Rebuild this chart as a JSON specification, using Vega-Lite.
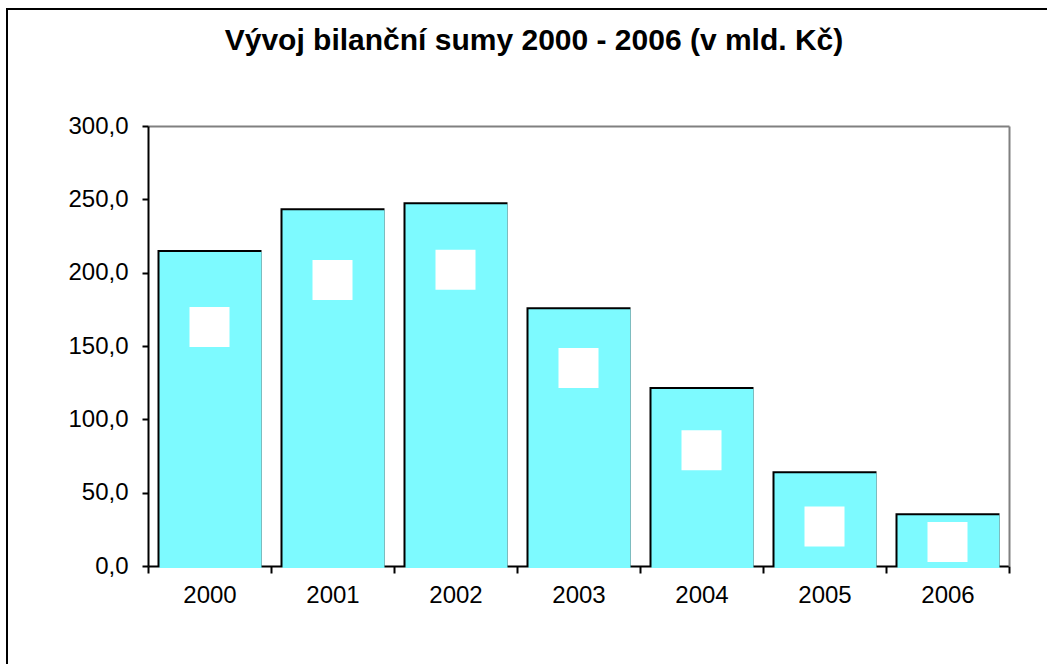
{
  "$schema": "https://vega.github.io/schema/vega-lite/v6.json",
  "width": 1040,
  "height": 655,
  "autosize": {"type": "none"},
  "padding": {"left": 7, "top": 9, "right": 0, "bottom": 0},
  "background": "white",
  "title": {
    "text": "Vývoj bilanční sumy 2000 - 2006 (v mld. Kč)",
    "font": "Liberation Sans",
    "fontSize": 30,
    "fontWeight": "bold",
    "color": "black",
    "anchor": "middle",
    "baseline": "middle",
    "offset": -62,
    "dx": 7
  },
  "data": {
    "values": [
      {"year": "2000", "value": 215.5, "labelPos": 163},
      {"year": "2001", "value": 244.0, "labelPos": 195},
      {"year": "2002", "value": 248.0, "labelPos": 202},
      {"year": "2003", "value": 176.5, "labelPos": 135},
      {"year": "2004", "value": 122.0, "labelPos": 79},
      {"year": "2005", "value": 64.6, "labelPos": 27},
      {"year": "2006", "value": 36.0, "labelPos": 16.4}
    ]
  },
  "layer": [
    {
      "mark": {"type": "bar", "color": "black", "width": 104},
      "encoding": {
        "x": {
          "field": "year",
          "type": "nominal",
          "sort": null,
          "scale": {"range": [141, 1002], "paddingInner": 0, "paddingOuter": 0},
          "axis": {
            "title": null,
            "orient": "bottom",
            "offset": -98,
            "domainColor": "black",
            "domainWidth": 2,
            "tickColor": "black",
            "tickWidth": 2,
            "tickSize": 7,
            "tickBand": "extent",
            "labelFont": "Liberation Sans",
            "labelFontSize": 24,
            "labelColor": "black",
            "labelPadding": 10,
            "labelAngle": 0,
            "grid": false,
            "encode": {"ticks": {"update": {"y": {"value": -7}, "y2": {"value": 7}}}}
          }
        },
        "y": {
          "field": "value",
          "type": "quantitative",
          "scale": {"domain": [0, 300], "range": [557, 117], "nice": false, "zero": true},
          "axis": {
            "title": null,
            "orient": "left",
            "offset": -141,
            "values": [0, 50, 100, 150, 200, 250, 300],
            "labelExpr": "replace(format(datum.value, '.1f'), '.', ',')",
            "domainColor": "black",
            "domainWidth": 2,
            "tickColor": "black",
            "tickWidth": 2,
            "tickSize": 6,
            "labelFont": "Liberation Sans",
            "labelFontSize": 24,
            "labelColor": "black",
            "labelPadding": 14,
            "grid": false
          }
        }
      }
    },
    {
      "mark": {"type": "bar", "color": "#7DFAFF", "width": 102, "xOffset": 1, "yOffset": 2},
      "encoding": {
        "x": {"field": "year", "type": "nominal", "sort": null, "axis": null},
        "y": {"field": "value", "type": "quantitative", "axis": null}
      }
    },
    {
      "mark": {"type": "point", "shape": "square", "filled": true, "color": "white", "opacity": 1, "size": 1600},
      "encoding": {
        "x": {
          "field": "year", "type": "nominal", "sort": null,
          "axis": {"orient": "top", "offset": -117, "title": null, "labels": false, "ticks": false, "grid": false, "domainColor": "#808080", "domainWidth": 2}
        },
        "y": {
          "field": "labelPos", "type": "quantitative",
          "axis": {"orient": "right", "offset": -38, "title": null, "labels": false, "ticks": false, "grid": false, "domainColor": "#808080", "domainWidth": 2}
        }
      }
    }
  ],
  "resolve": {"axis": {"x": "independent", "y": "independent"}},
  "config": {
    "view": {"stroke": "black", "strokeWidth": 2, "strokeDash": [1040, 1695, 655], "fill": "white"}
  }
}
